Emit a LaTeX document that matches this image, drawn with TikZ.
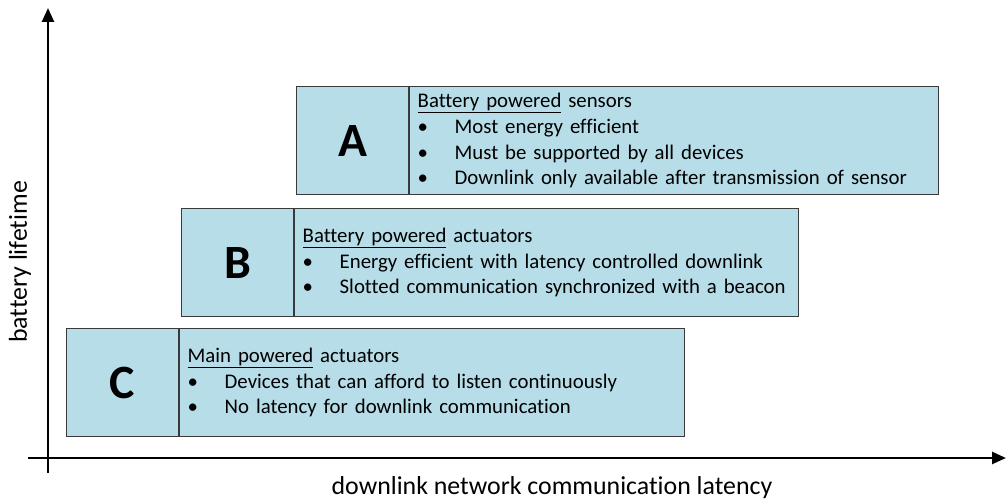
\documentclass[tikz,border=0pt]{standalone}
\usepackage{fontspec}
\setmainfont{Carlito}[Ligatures=NoCommon]
\usetikzlibrary{arrows.meta, positioning}

\definecolor{cellfill}{HTML}{B7DDE8}
\definecolor{cellline}{HTML}{3A3A3A}

\newcommand{\itemline}[1]{\makebox[0.925cm][l]{\textbullet}#1}

\begin{document}
\begin{tikzpicture}[
    >={Triangle[length=3.5mm, width=3mm]},
    lettercell/.style={draw=cellline, fill=cellfill, line width=0.8pt,
        minimum width=2.8cm, minimum height=2.7cm, inner sep=0pt,
        font=\fontsize{34}{36}\selectfont\bfseries},
    textcell/.style={draw=cellline, fill=cellfill, line width=0.8pt,
        minimum height=2.7cm, inner xsep=0.2cm, align=left,
        font=\fontsize{14.8}{18.4}\selectfont},
    axislabel/.style={font=\fontsize{18.4}{20}\selectfont}
]
\useasboundingbox (0,0) rectangle (25.15,12.5);

% --- Achsen ---
\coordinate (ybot) at (1.2, 0.675);
\coordinate (ytop) at (1.2, 12.3);
\coordinate (xleft) at (0.7, 1.05);
\coordinate (xright) at (25.15, 1.05);
\draw[->, line width=1.8pt] (ybot) -- (ytop);
\draw[->, line width=1.8pt] (xleft) -- (xright);

\node[axislabel, rotate=90] (ylab) at (0.5, 5.95) {battery lifetime};
\node[axislabel] (xlab) at (13.8, 0.3) {downlink network communication latency};

% --- A ---
\node[lettercell, anchor=north west] (cellA) at (7.4, 10.35) {A};
\node[textcell, text width=12.825cm, right=0pt of cellA] (textA) {%
    \underline{Battery powered} sensors\\
    \itemline{Most energy efficient}\\
    \itemline{Must be supported by all devices}\\
    \itemline{Downlink only available after transmission of sensor}};

% --- B ---
\node[lettercell, anchor=north west] (cellB) at (4.525, 7.3) {B};
\node[textcell, text width=12.2cm, right=0pt of cellB] (textB) {%
    \underline{Battery powered} actuators\\
    \itemline{Energy efficient with latency controlled downlink}\\
    \itemline{Slotted communication synchronized with a beacon}};

% --- C ---
\node[lettercell, anchor=north west] (cellC) at (1.65, 4.3) {C};
\node[textcell, text width=12.225cm, right=0pt of cellC] (textC) {%
    \underline{Main powered} actuators\\
    \itemline{Devices that can afford to listen continuously}\\
    \itemline{No latency for downlink communication}};

\end{tikzpicture}
\end{document}
